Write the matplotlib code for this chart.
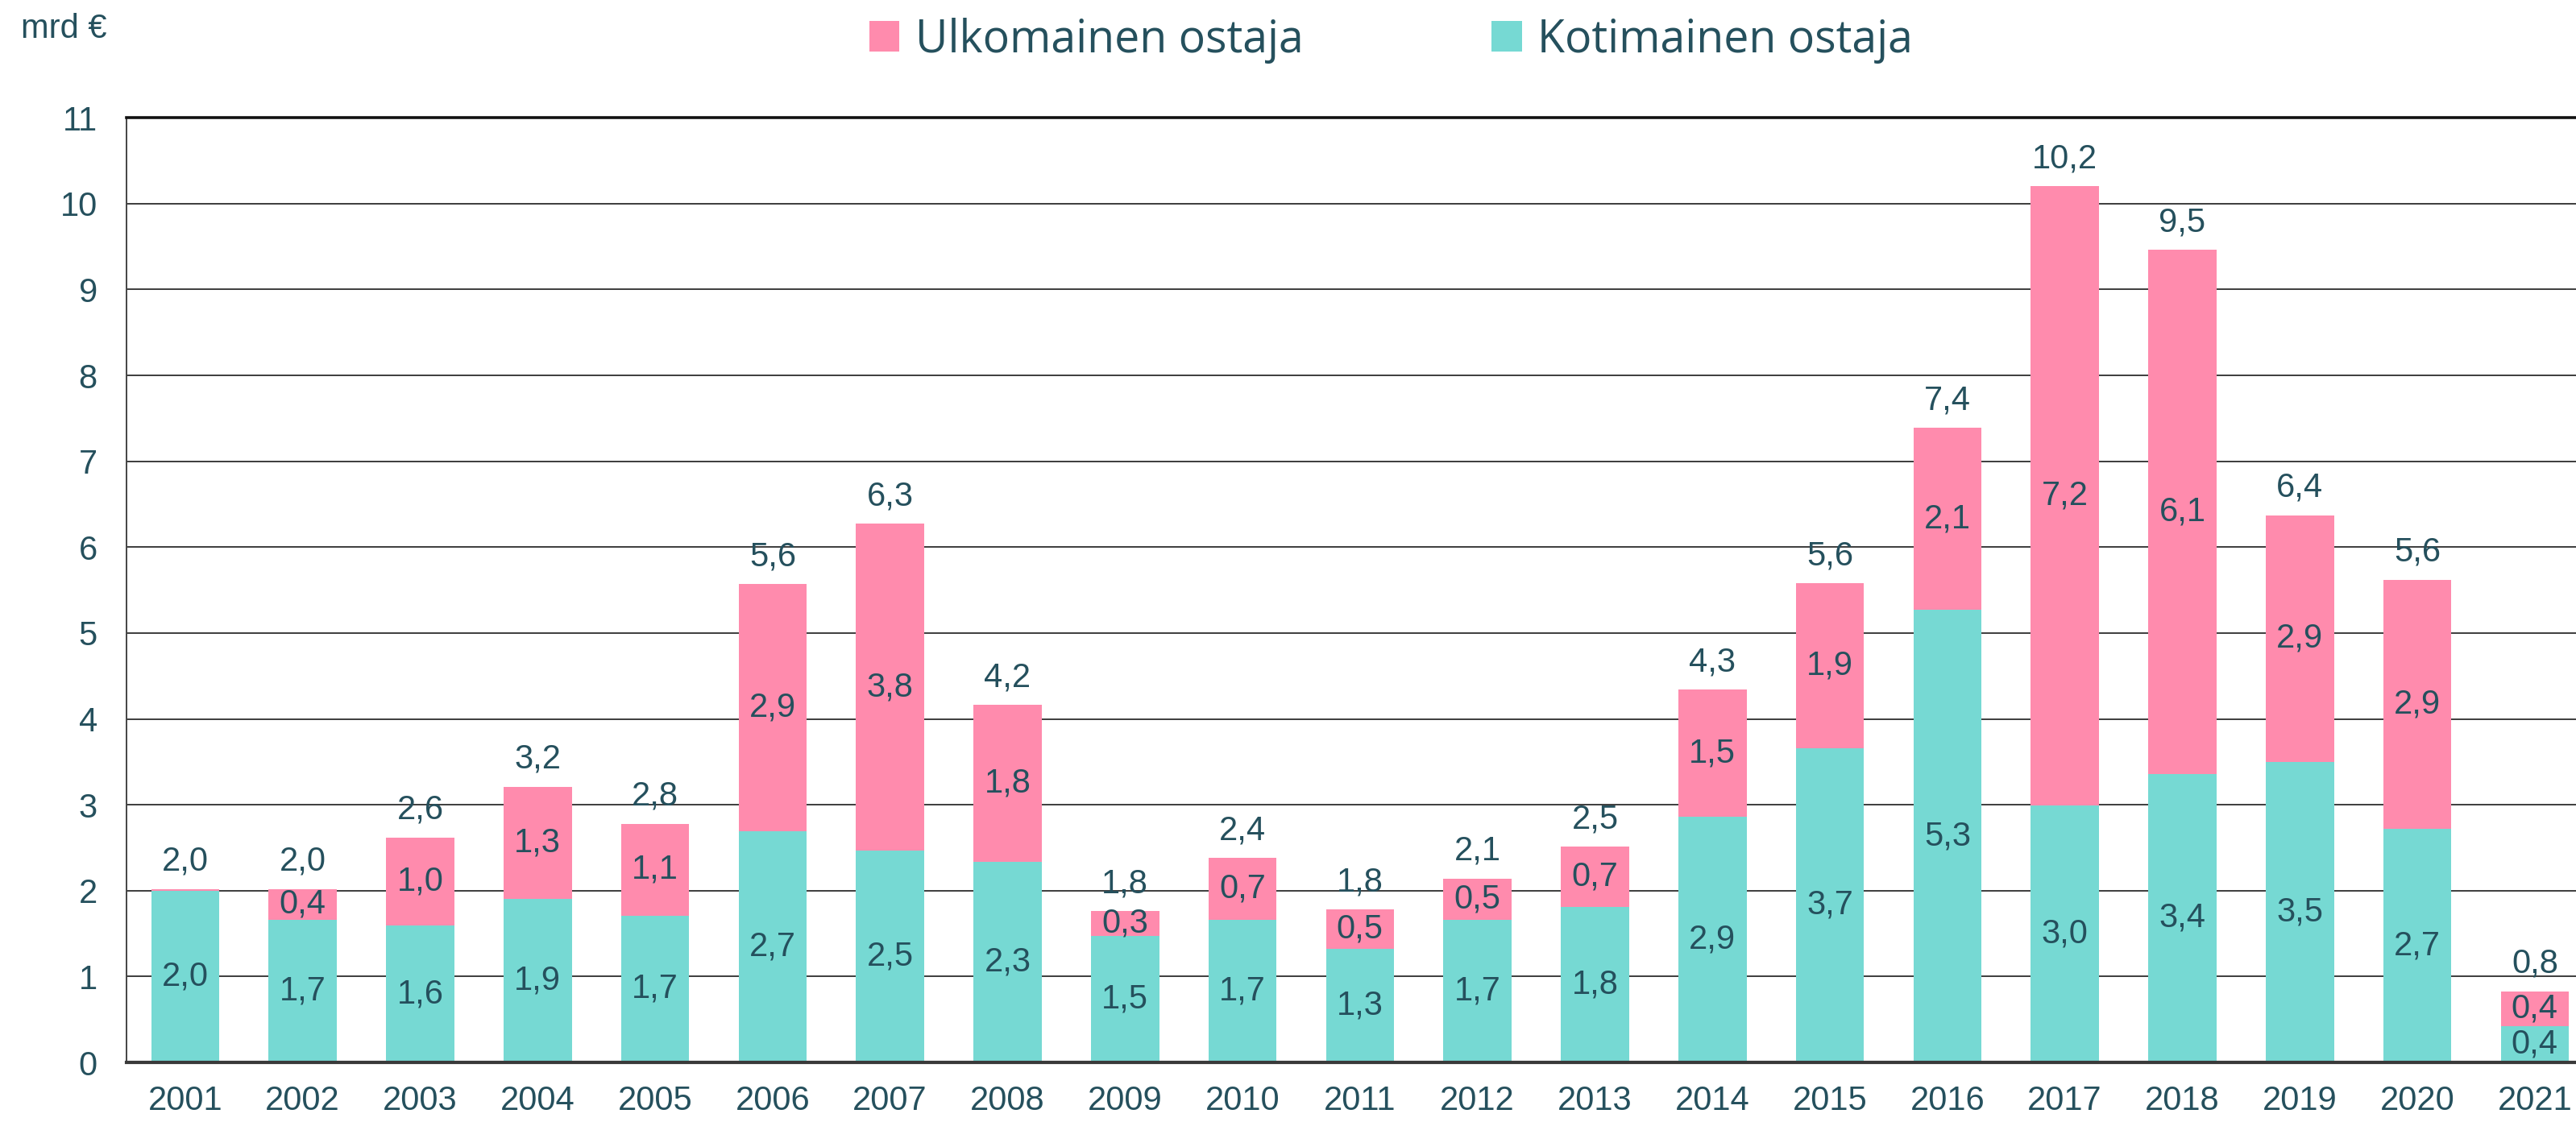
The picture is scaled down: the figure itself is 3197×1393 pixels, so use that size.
import matplotlib

matplotlib.use("Agg")
import matplotlib.pyplot as plt
import numpy as np
from matplotlib.patches import Patch

matplotlib.rcParams["font.family"] = ["Liberation Sans", "DejaVu Sans"]

years = [str(y) for y in range(2001, 2022)]
kotimainen = [2.00, 1.66, 1.59, 1.90, 1.71, 2.69, 2.47, 2.34, 1.47, 1.66, 1.32,
              1.66, 1.81, 2.86, 3.66, 5.27, 2.99, 3.36, 3.50, 2.72, 0.42]
ulkomainen = [0.02, 0.36, 1.03, 1.31, 1.07, 2.88, 3.80, 1.82, 0.29, 0.72, 0.46,
              0.48, 0.70, 1.48, 1.92, 2.12, 7.21, 6.10, 2.87, 2.90, 0.41]
yticks = list(range(0, 12))

TEAL = "#76d9d3"
PINK = "#ff8bad"
TEXT = "#25505d"
GRID = "#3c3c3c"


def fmt(v: float) -> str:
    return f"{v:.1f}".replace(".", ",")


def main() -> None:
    fig = plt.figure(figsize=(31.97, 13.93), dpi=100, facecolor="white")
    ax = fig.add_axes([0.0491, 0.0531, 0.9577, 0.842])

    x = np.arange(len(years))
    dom = np.array(kotimainen)
    frg = np.array(ulkomainen)
    total = dom + frg
    width = 0.58

    ax.bar(x, dom, width=width, color=TEAL, zorder=2)
    ax.bar(x, frg, bottom=dom, width=width, color=PINK, zorder=2)

    for xi, d, f, t in zip(x, dom, frg, total):
        ax.text(xi, d / 2, fmt(d), ha="center", va="center", fontsize=30, color=TEXT, zorder=3)
        if f >= 0.1:
            ax.text(xi, d + f / 2, fmt(f), ha="center", va="center", fontsize=30, color=TEXT, zorder=3)
        ax.annotate(fmt(t), (xi, t), xytext=(0, 10), textcoords="offset points",
                    ha="center", va="bottom", fontsize=30, color=TEXT, zorder=3)

    ax.set_xlim(-0.5, len(years) - 0.5)
    ax.set_ylim(0, 11)
    ax.set_yticks(yticks)
    ax.set_xticks(x, years)
    ax.tick_params(axis="both", length=0, labelsize=30, labelcolor=TEXT)
    ax.tick_params(axis="y", pad=26)
    ax.tick_params(axis="x", pad=20)

    ax.set_axisbelow(True)
    ax.grid(True, axis="y", color=GRID, linewidth=1.4)
    ax.spines["right"].set_visible(False)
    ax.spines["top"].set_color("#111111")
    ax.spines["top"].set_linewidth(2.6)
    ax.spines["left"].set_color("#444444")
    ax.spines["left"].set_linewidth(1.4)
    ax.spines["bottom"].set_color("#3a3a3a")
    ax.spines["bottom"].set_linewidth(3.0)

    fig.text(0.008, 0.966, "mrd €", fontsize=30, color=TEXT, ha="left", va="baseline")

    handles = [Patch(facecolor=PINK, edgecolor="none"), Patch(facecolor=TEAL, edgecolor="none")]
    fig.legend(
        handles,
        ["Ulkomainen ostaja", "Kotimainen ostaja"],
        loc="center",
        bbox_to_anchor=(0.54, 0.964),
        ncol=2,
        frameon=False,
        prop={"family": ["Open Sans", "DejaVu Sans"], "size": 40},
        labelcolor=TEXT,
        handlelength=0.68,
        handleheight=0.68,
        handletextpad=0.35,
        columnspacing=4.2,
    )

    fig.savefig("out.png", dpi=100, facecolor="white")
    plt.close(fig)


if __name__ == "__main__":
    main()
